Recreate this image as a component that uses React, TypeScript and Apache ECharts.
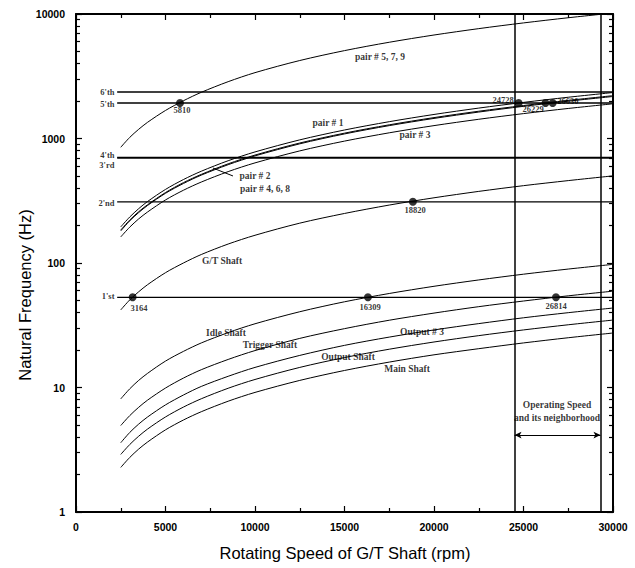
import React, { useEffect, useRef } from 'react';
import * as echarts from 'echarts';

// Rotating speed sample points (rpm)
const RPM = [2500, 3000, 3500, 4000, 5000, 6000, 7000, 8500, 10000, 12500, 15000, 17500, 20000, 22500, 25000, 27500, 30000];

// Natural frequency curves (Hz)
const PAIR_5_7_9 = [850, 1020, 1185, 1350, 1680, 2010, 2350, 2860, 3380, 4230, 5080, 5930, 6780, 7630, 8480, 9330, 10180];
const PAIR_1 = [195, 234, 273, 312, 390, 468, 546, 663, 780, 975, 1170, 1365, 1560, 1755, 1950, 2145, 2340];
const PAIR_2 = [184, 221, 258, 294, 368, 442, 515, 626, 736, 920, 1104, 1288, 1472, 1656, 1840, 2024, 2208];
const PAIR_4_6_8 = [181, 218, 254, 290, 363, 435, 508, 616, 725, 906, 1088, 1269, 1450, 1631, 1813, 1994, 2175];
const PAIR_3 = [162, 194, 226, 257, 321, 384, 447, 542, 637, 795, 953, 1111, 1269, 1427, 1585, 1743, 1900];
const GT_SHAFT = [42, 50.5, 58.7, 67, 83.6, 100, 117, 142, 167, 209, 250, 292, 334, 376, 418, 459, 501];
const IDLE_SHAFT = [8.1, 9.75, 11.4, 13, 16.3, 19.5, 22.8, 27.6, 32.5, 40.6, 48.8, 56.9, 65, 73.1, 81.3, 89.4, 97.5];
const TRIGGER_SHAFT = [4.95, 5.94, 6.93, 7.92, 9.9, 11.9, 13.9, 16.8, 19.8, 24.8, 29.7, 34.7, 39.6, 44.6, 49.5, 54.5, 59.4];
const OUTPUT_3 = [3.6, 4.35, 5.08, 5.8, 7.25, 8.7, 10.2, 12.3, 14.5, 18.1, 21.8, 25.4, 29, 32.6, 36.3, 39.9, 43.5];
const OUTPUT_SHAFT = [2.9, 3.48, 4.06, 4.64, 5.8, 6.96, 8.12, 9.86, 11.6, 14.5, 17.4, 20.3, 23.2, 26.1, 29, 31.9, 34.8];
const MAIN_SHAFT = [2.28, 2.74, 3.2, 3.65, 4.57, 5.48, 6.39, 7.76, 9.13, 11.4, 13.7, 16, 18.3, 20.5, 22.8, 25.1, 27.4];

// Excitation (mode) lines
const MODE_NAMES = ["1'st", "2'nd", "3'rd", "4'th", "5'th", "6'th"];
const MODE_VALUES = [53, 310, 695, 705, 1930, 2360];
const MODE_RANGE = [2300, 30000];

// Crossing points
const CROSS_RPM = [5810, 3164, 18820, 16309, 26814, 24728, 26229, 26630];
const CROSS_HZ = [1930, 53, 310, 53, 53, 1930, 1930, 1930];

// Operating speed band
const OPERATING_BAND = [24500, 29300];
const OPERATING_ARROW_HZ = 4.15;

// Text annotations [text, rpm, Hz]
const CURVE_LABELS: [string, number, number][] = [
  ['pair # 5, 7, 9', 16983, 4517],
  ['pair # 1', 14078, 1332],
  ['pair # 3', 18939, 1067],
  ['pair # 2', 10000, 500],
  ['pair # 4, 6, 8', 10559, 393],
  ['G/T Shaft', 8156, 104],
  ['Idle Shaft', 8380, 27.4],
  ['Trigger Shaft', 10838, 21.9],
  ['Output # 3', 19330, 27.9],
  ['Output Shaft', 15196, 17.6],
  ['Main Shaft', 18492, 14.1],
  ['Operating Speed', 26872, 7.23],
  ['and its neighborhood', 26872, 5.69],
];
const POINT_LABELS: [string, number, number][] = [
  ['5810', 5922, 1694],
  ['3164', 3520, 43.5],
  ['18820', 18939, 267],
  ['16309', 16425, 44.3],
  ['26814', 26816, 45.1],
  ['24728', 23855, 2038],
  ['26229', 25531, 1726],
  ['26630', 27486, 2000],
];
const MODE_LABEL_RPM = 2150;
const MODE_LABEL_HZ = [54.3, 303, 608, 742, 1893, 2362];

// Leader line for pair # 2
const LEADER_RPM = [7650, 8770];
const LEADER_HZ = [579, 500];

const X_LABELS = ['0', '5000', '10000', '15000', '20000', '25000', '30000'];
const Y_LABELS = ['1', '10', '100', '1000', '10000'];

const SANS = "'Liberation Sans', Arial, Helvetica, sans-serif";
const SERIF = "'Liberation Serif', 'Times New Roman', serif";

export default function App() {
  const ref = useRef<HTMLDivElement>(null);

  useEffect(() => {
    if (!ref.current) return;
    const chart = echarts.init(ref.current, undefined, { renderer: 'svg' });

    const curves: [string, number[]][] = [
      ['pair # 5, 7, 9', PAIR_5_7_9],
      ['pair # 1', PAIR_1],
      ['pair # 2', PAIR_2],
      ['pair # 4, 6, 8', PAIR_4_6_8],
      ['pair # 3', PAIR_3],
      ['G/T Shaft', GT_SHAFT],
      ['Idle Shaft', IDLE_SHAFT],
      ['Trigger Shaft', TRIGGER_SHAFT],
      ['Output # 3', OUTPUT_3],
      ['Output Shaft', OUTPUT_SHAFT],
      ['Main Shaft', MAIN_SHAFT],
    ];

    const yMinor: number[] = [];
    for (let d = 0; d < 4; d++) {
      for (let k = 2; k <= 9; k++) yMinor.push(d + Math.log10(k));
    }

    const series: any[] = [];
    curves.forEach(([name, vals]) => {
      series.push({
        type: 'line',
        name,
        data: RPM.map((r, i) => [r, vals[i]]),
        symbol: 'none',
        smooth: 0.3,
        lineStyle: { color: '#000', width: 1 },
        itemStyle: { color: '#000' },
        silent: true,
        z: 3,
      });
    });
    MODE_VALUES.forEach((v, i) => {
      series.push({
        type: 'line',
        name: MODE_NAMES[i],
        data: [[MODE_RANGE[0], v], [MODE_RANGE[1], v]],
        symbol: 'none',
        lineStyle: { color: '#000', width: 1.4 },
        itemStyle: { color: '#000' },
        silent: true,
        z: 3,
      });
    });
    series.push({
      type: 'line',
      name: 'leader',
      data: LEADER_RPM.map((r, i) => [r, LEADER_HZ[i]]),
      symbol: 'none',
      lineStyle: { color: '#000', width: 1 },
      itemStyle: { color: '#000' },
      silent: true,
      markLine: {
        silent: true,
        symbol: 'none',
        label: { show: false },
        lineStyle: { color: '#000', width: 1.5, type: 'solid' },
        data: OPERATING_BAND.map((x) => ({ xAxis: x })),
      },
    });
    series.push({
      type: 'line',
      name: 'arrow',
      data: [],
      itemStyle: { color: '#000' },
      markLine: {
        silent: true,
        symbol: ['arrow', 'arrow'],
        symbolSize: [5, 7],
        label: { show: false },
        lineStyle: { color: '#000', width: 1.2, type: 'solid' },
        data: [[{ coord: [OPERATING_BAND[0], OPERATING_ARROW_HZ] }, { coord: [OPERATING_BAND[1], OPERATING_ARROW_HZ] }]],
      },
    });
    series.push({
      type: 'scatter',
      name: 'crossings',
      data: CROSS_RPM.map((r, i) => [r, CROSS_HZ[i]]),
      symbol: 'circle',
      symbolSize: 8,
      itemStyle: { color: '#000' },
      silent: true,
      z: 5,
    });
    const textItems: any[] = [];
    CURVE_LABELS.forEach(([t, x, y]) => textItems.push({ value: [x, y], name: t, fs: 9.5 }));
    POINT_LABELS.forEach(([t, x, y]) => textItems.push({ value: [x, y], name: t, fs: 8.5 }));
    MODE_NAMES.forEach((t, i) =>
      textItems.push({ value: [MODE_LABEL_RPM, MODE_LABEL_HZ[i]], name: t, align: 'right', fs: 8.5 })
    );
    series.push({
      type: 'scatter',
      name: 'texts',
      silent: true,
      symbolSize: 0,
      itemStyle: { color: '#000' },
      z: 6,
      data: textItems.map((d) => ({
        value: d.value,
        name: d.name,
        label: {
          show: true,
          position: 'inside',
          formatter: '{b}',
          align: d.align || 'center',
          verticalAlign: 'middle',
          color: '#000',
          textBorderWidth: 0,
          fontFamily: SERIF,
          fontWeight: 'bold',
          fontSize: d.fs,
        },
      })),
    });

    const tickStyle = { color: '#000', width: 1.2 };
    const option: any = {
      animation: false,
      backgroundColor: '#fff',
      grid: { left: 76, right: 22, top: 14, bottom: 56, containLabel: false },
      xAxis: [
        {
          type: 'value',
          min: 0,
          max: 30000,
          interval: 5000,
          position: 'bottom',
          axisLine: { onZero: false, lineStyle: { color: '#000', width: 2 } },
          axisTick: { inside: true, length: 6, lineStyle: tickStyle },
          minorTick: { show: true, splitNumber: 2, length: 4, lineStyle: tickStyle },
          splitLine: { show: false },
          axisLabel: {
            color: '#000',
            fontFamily: SANS,
            fontWeight: 'bold',
            fontSize: 10.5,
            margin: 9,
            formatter: (v: number) => X_LABELS[Math.round(v / 5000)] ?? String(v),
          },
        },
        {
          type: 'value',
          min: 0,
          max: 30000,
          interval: 5000,
          position: 'top',
          axisLine: { onZero: false, lineStyle: { color: '#000', width: 2 } },
          axisTick: { inside: true, length: 6, lineStyle: tickStyle },
          minorTick: { show: true, splitNumber: 2, length: 4, lineStyle: tickStyle },
          splitLine: { show: false },
          axisLabel: { show: false },
        },
      ],
      yAxis: [
        {
          type: 'log',
          logBase: 10,
          min: 1,
          max: 10000,
          position: 'left',
          axisLine: { onZero: false, lineStyle: { color: '#000', width: 2 } },
          axisTick: { inside: true, length: 6, lineStyle: tickStyle },
          splitLine: { show: false },
          axisLabel: {
            color: '#000',
            fontFamily: SANS,
            fontWeight: 'bold',
            fontSize: 10.5,
            margin: 11,
            formatter: (v: number) => Y_LABELS[Math.round(Math.log10(v))] ?? String(v),
          },
        },
        {
          type: 'value',
          min: 0,
          max: 4,
          position: 'left',
          axisLine: { show: false, onZero: false },
          axisTick: { inside: true, length: 4, lineStyle: tickStyle, customValues: yMinor },
          splitLine: { show: false },
          axisLabel: { show: false },
        },
        {
          type: 'value',
          min: 0,
          max: 4,
          interval: 1,
          position: 'right',
          axisLine: { onZero: false, lineStyle: { color: '#000', width: 2 } },
          axisTick: { inside: true, length: 6, lineStyle: tickStyle },
          splitLine: { show: false },
          axisLabel: { show: false },
        },
        {
          type: 'value',
          min: 0,
          max: 4,
          position: 'right',
          axisLine: { show: false, onZero: false },
          axisTick: { inside: true, length: 4, lineStyle: tickStyle, customValues: yMinor },
          splitLine: { show: false },
          axisLabel: { show: false },
        },
      ],
      graphic: [
        {
          type: 'text',
          x: 345,
          y: 553,
          style: {
            text: 'Rotating Speed of G/T Shaft (rpm)',
            fill: '#000',
            font: `16.5px ${SANS}`,
            textAlign: 'center',
            textVerticalAlign: 'middle',
          },
        },
        {
          type: 'text',
          x: 25,
          y: 295,
          rotation: Math.PI / 2,
          style: {
            text: 'Natural Frequency (Hz)',
            fill: '#000',
            font: `16.5px ${SANS}`,
            textAlign: 'center',
            textVerticalAlign: 'middle',
          },
        },
      ],
      series,
    };
    chart.setOption(option);
    return () => chart.dispose();
  }, []);

  return (
    <div
      ref={ref}
      style={{ position: 'fixed', left: 0, top: 0, width: 635, height: 568, background: '#fff' }}
    />
  );
}
